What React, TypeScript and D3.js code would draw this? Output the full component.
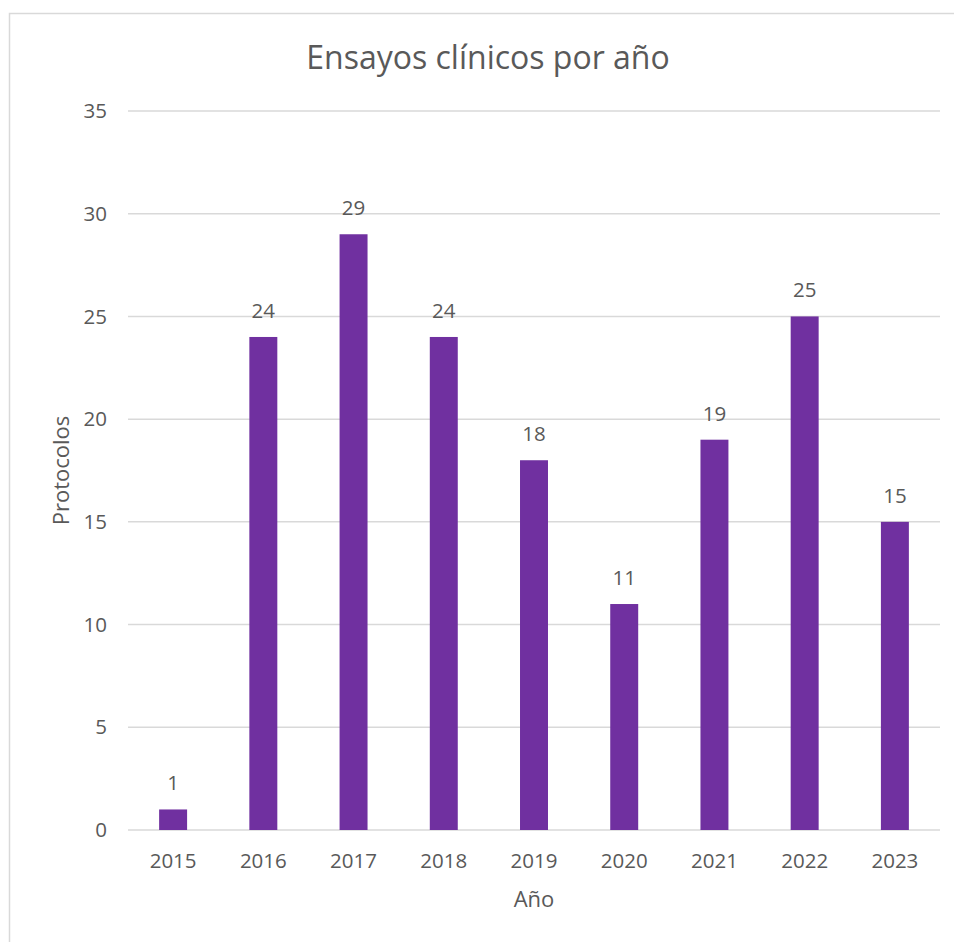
import React from "react";
import * as d3 from "d3";

const years = ["2015", "2016", "2017", "2018", "2019", "2020", "2021", "2022", "2023"];
const protocolos = [1, 24, 29, 24, 18, 11, 19, 25, 15];
const yTicks = [0, 5, 10, 15, 20, 25, 30, 35];

const W = 954, H = 942;
const left = 128, right = 940, top = 111, bottom = 830;
const font = "'Open Sans', 'Noto Sans', sans-serif";
const textColor = "#595959";

export default function App() {
    const x = d3.scaleBand().domain(years).range([left, right]).paddingInner(0.69).paddingOuter(0.345);
    const y = d3.scaleLinear().domain([0, 35]).range([bottom, top]);

    return (
        <svg width={W} height={H} style={{ position: "absolute", left: 0, top: 0, background: "#fff" }} fontFamily={font}>
            {/* chart frame, runs off the right and bottom edges */}
            <rect x={9.5} y={13.5} width={W + 20} height={H + 20} fill="#fff" stroke="#d9d9d9" strokeWidth={1.5} />

            <text x={488} y={69} textAnchor="middle" fontSize={32} fill={textColor}>Ensayos clínicos por año</text>

            {yTicks.map(t => (
                <g key={t}>
                    <line x1={left} x2={right} y1={y(t)} y2={y(t)} stroke="#d9d9d9" strokeWidth={1.5} />
                    <text x={107} y={y(t)} dy="0.35em" textAnchor="end" fontSize={20.5} fill={textColor}>{t}</text>
                </g>
            ))}

            {years.map((yr, i) => (
                <g key={yr}>
                    <rect x={x(yr)} y={y(protocolos[i])} width={x.bandwidth()} height={y(0) - y(protocolos[i])} fill="#7030a0" />
                    <text x={x(yr)! + x.bandwidth() / 2} y={y(protocolos[i]) - 19} textAnchor="middle" fontSize={20.5} fill={textColor}>{protocolos[i]}</text>
                    <text x={x(yr)! + x.bandwidth() / 2} y={868} textAnchor="middle" fontSize={20.5} fill={textColor}>{yr}</text>
                </g>
            ))}

            <text x={(left + right) / 2} y={907} textAnchor="middle" fontSize={22} fill={textColor}>Año</text>
            <text transform={`translate(69,${(top + bottom) / 2}) rotate(-90)`} textAnchor="middle" fontSize={22} fill={textColor}>Protocolos</text>
        </svg>
    );
}
